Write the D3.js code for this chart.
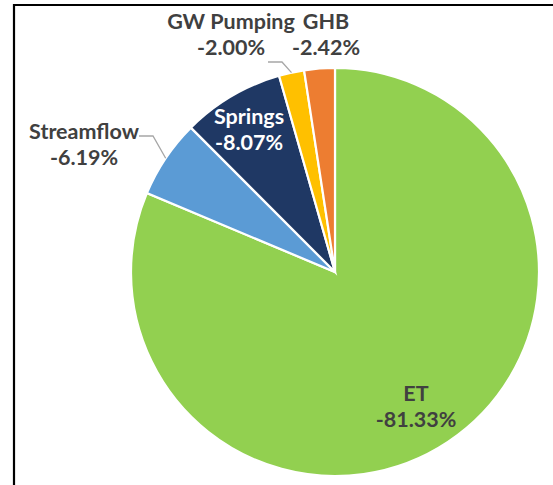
<!DOCTYPE html>
<html>
<head>
<meta charset="utf-8">
<script src="https://cdn.jsdelivr.net/npm/d3@7"></script>
<style>
  html, body { margin: 0; padding: 0; background: #fff; }
  svg { display: block; }
</style>
</head>
<body>
<svg id="chart" width="553" height="485"></svg>
<script>
// Water budget outflow components (percent of total outflow)
const categories = ["ET", "Streamflow", "Springs", "GW Pumping", "GHB"];
const values = [-81.33, -6.19, -8.07, -2.00, -2.42];
const colors = ["#92D050", "#5B9BD5", "#1F3864", "#FFC000", "#ED7D31"];

// Label placement (label block centre); outside labels get a leader line
// running from the given elbow points to the slice edge.
const labelLayout = {
  "ET":         { x: 416, y: 407, color: "#404040", leader: null },
  "Streamflow": { x: 84,  y: 145, color: "#404040", leader: [[139, 136], [153, 136]] },
  "Springs":    { x: 249, y: 130, color: "#ffffff", leader: null },
  "GW Pumping": { x: 231, y: 35,  color: "#404040", leader: [[268, 62], [282, 62]] },
  "GHB":        { x: 326, y: 35,  color: "#404040", leader: null }
};

const svg = d3.select("#chart");
const W = 553, H = 485;
const cx = 335, cy = 272, R = 204;

// Frame
svg.append("line").attr("x1", 14).attr("y1", 5).attr("x2", W + 5).attr("y2", 5)
  .attr("stroke", "#000").attr("stroke-width", 2.2);
svg.append("line").attr("x1", 14).attr("y1", 4).attr("x2", 14).attr("y2", H + 5)
  .attr("stroke", "#000").attr("stroke-width", 2.2);

const pie = d3.pie().sort(null).value(d => Math.abs(d));
const arcs = pie(values);
const arc = d3.arc().innerRadius(0).outerRadius(R);

const g = svg.append("g").attr("transform", `translate(${cx},${cy})`);

g.selectAll("path.slice")
  .data(arcs)
  .join("path")
  .attr("class", "slice")
  .attr("d", arc)
  .attr("fill", (d, i) => colors[i])
  .attr("stroke", "#fff")
  .attr("stroke-width", 2.2)
  .attr("stroke-linejoin", "miter");

const fmt = v => v.toFixed(2) + "%";
const font = "Lato, 'Open Sans', sans-serif";
const fs = 21.5, lh = 26;

// Leader lines
arcs.forEach((d, i) => {
  const L = labelLayout[categories[i]];
  if (!L.leader) return;
  const mid = (d.startAngle + d.endAngle) / 2;
  const edge = [cx + R * Math.sin(mid), cy - R * Math.cos(mid)];
  svg.append("path")
    .attr("d", d3.line()(L.leader.concat([edge])))
    .attr("fill", "none")
    .attr("stroke", "#A6A6A6")
    .attr("stroke-width", 1.3);
});

// Labels: category name over value
arcs.forEach((d, i) => {
  const name = categories[i];
  const L = labelLayout[name];
  const t = svg.append("text")
    .attr("text-anchor", "middle")
    .attr("font-family", font)
    .attr("font-weight", 700)
    .attr("font-size", fs)
    .attr("fill", L.color);
  t.append("tspan").attr("x", L.x).attr("y", L.y - lh / 2 + 7).text(name);
  t.append("tspan").attr("x", L.x).attr("y", L.y + lh / 2 + 7).text(fmt(values[i]));
});
</script>
</body>
</html>
